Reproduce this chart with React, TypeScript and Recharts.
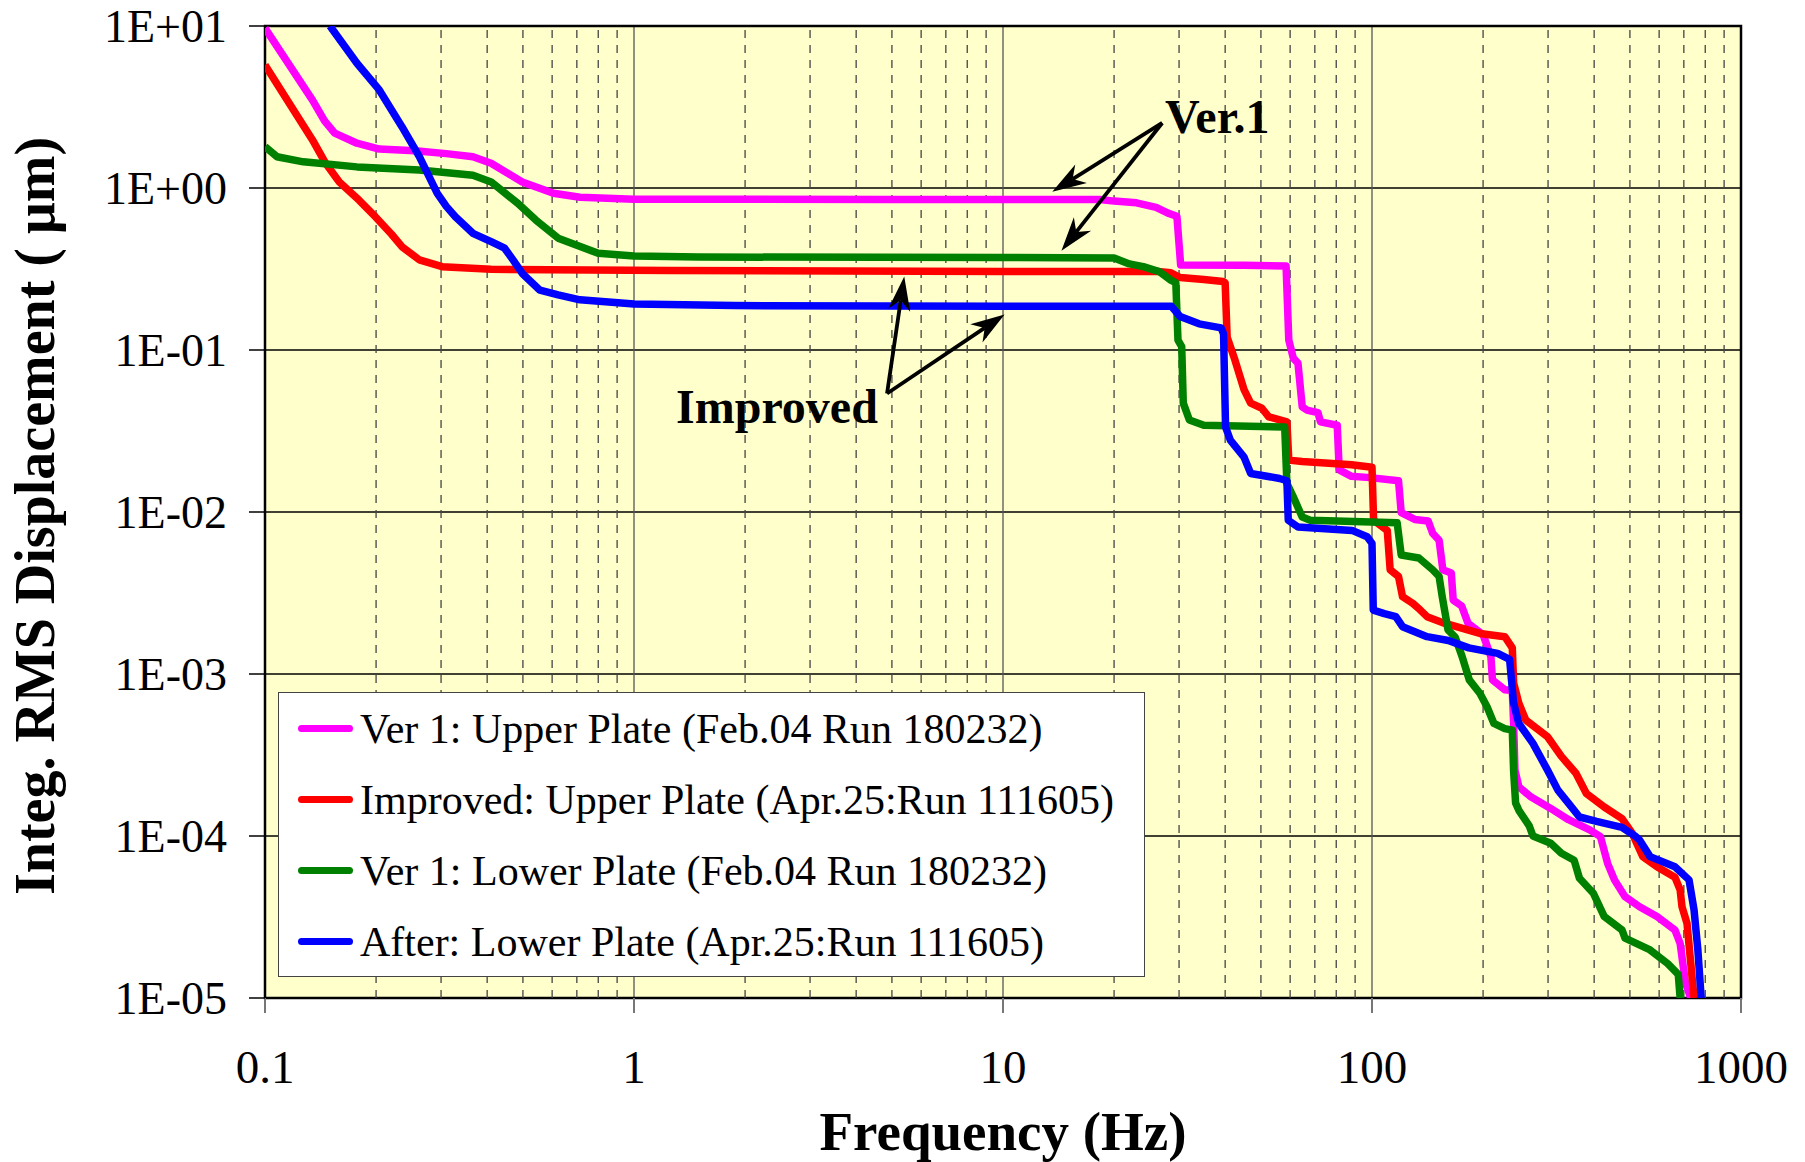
import React from 'react';
import {
  LineChart,
  Line,
  XAxis,
  YAxis,
  CartesianGrid,
  ReferenceLine,
  ReferenceArea,
  ReferenceDot,
  Legend
} from 'recharts';

// axis ticks
const xTicks = [0.1, 1, 10, 100, 1000];
const yTicks = [1e-5, 1e-4, 1e-3, 1e-2, 1e-1, 1, 10];
const minorTicks = [
  0.2, 0.3, 0.4, 0.5, 0.6, 0.7, 0.8, 0.9,
  2, 3, 4, 5, 6, 7, 8, 9,
  20, 30, 40, 50, 60, 70, 80, 90,
  200, 300, 400, 500, 600, 700, 800, 900
];

// [frequency Hz, integrated RMS displacement um]
const ver1Upper: [number, number][] = [
  [0.1, 9.7], [0.1345, 3.49], [0.145, 2.6], [0.1545, 2.18], [0.1775, 1.89], [0.204, 1.74],
  [0.255, 1.7], [0.31, 1.63], [0.366, 1.56], [0.41, 1.42], [0.498, 1.09], [0.605, 0.927],
  [0.714, 0.877], [1.0, 0.852], [5, 0.85], [18.3, 0.85], [20, 0.83], [23, 0.81], [26, 0.76],
  [28, 0.7], [29.6, 0.67], [30.0, 0.45], [30.3, 0.335], [45, 0.333], [58.5, 0.33], [59.5, 0.115],
  [61.2, 0.089], [63, 0.083], [64.7, 0.0446], [66.6, 0.0426], [71.4, 0.041], [72.5, 0.036],
  [80.5, 0.0343], [81.5, 0.0182], [88, 0.0166], [98.7, 0.0163], [118, 0.0156], [120, 0.0099],
  [130.6, 0.009], [142, 0.0088], [146, 0.0074], [152, 0.0067], [155.6, 0.0044], [164, 0.0042],
  [166, 0.00286], [175, 0.00263], [182, 0.00206], [200, 0.00175], [210, 0.00128], [212, 0.00092],
  [229, 0.0008], [240, 0.00079], [242, 0.000495], [244, 0.000255], [250, 0.000201],
  [270, 0.000174], [305, 0.000148], [341, 0.000126], [389, 0.000109], [416, 0.0000991],
  [435, 0.0000678], [454, 0.0000536], [485, 0.0000422], [531, 0.0000366], [592, 0.0000318],
  [662, 0.0000263], [684, 0.0000217], [707, 0.0000124], [731, 0.00001]
];

const improvedUpper: [number, number][] = [
  [0.1, 5.74], [0.1345, 1.98], [0.146, 1.42], [0.159, 1.09], [0.18, 0.84], [0.199, 0.665],
  [0.22, 0.52], [0.235, 0.434], [0.262, 0.36], [0.302, 0.327], [0.41, 0.315], [1.25, 0.31],
  [10, 0.305], [26.3, 0.305], [28.5, 0.3], [30.2, 0.28], [35, 0.272], [39.5, 0.265],
  [40.0, 0.26], [40.5, 0.12], [42.5, 0.087], [45, 0.057], [46.9, 0.047], [50.3, 0.0437],
  [52.5, 0.0387], [58.8, 0.036], [59.5, 0.0209], [64.7, 0.0205], [88, 0.0196], [100, 0.0189],
  [101, 0.0089], [110, 0.0077], [112, 0.0044], [118, 0.004], [121, 0.003], [129, 0.00273],
  [135, 0.00249], [141, 0.00226], [157, 0.00206], [196, 0.00178], [229, 0.0017], [240, 0.00145],
  [242, 0.00088], [250, 0.00066], [261, 0.00052], [299, 0.00041], [326, 0.00031],
  [357, 0.000244], [381, 0.000183], [426, 0.000151], [476, 0.000128], [507, 0.000104],
  [542, 0.0000746], [592, 0.0000646], [662, 0.0000557], [684, 0.0000465], [692, 0.0000366],
  [714, 0.0000289], [731, 0.0000163], [746, 0.00001]
];

const ver1Lower: [number, number][] = [
  [0.1, 1.8], [0.1077, 1.56], [0.127, 1.45], [0.1775, 1.35], [0.262, 1.29], [0.366, 1.2],
  [0.41, 1.09], [0.484, 0.805], [0.542, 0.634], [0.623, 0.49], [0.697, 0.445], [0.8, 0.395],
  [1.0, 0.38], [1.5, 0.375], [10, 0.372], [20, 0.37], [22, 0.34], [24, 0.327], [26.5, 0.305],
  [28.5, 0.27], [29.4, 0.26], [29.8, 0.115], [30.5, 0.105], [30.8, 0.047], [32, 0.037],
  [35, 0.0343], [58, 0.0335], [58.8, 0.015], [61.2, 0.0124], [64.7, 0.0093], [68, 0.0089],
  [117, 0.00857], [120, 0.00543], [134, 0.0052], [146, 0.0044], [152, 0.004], [155, 0.003],
  [160.7, 0.00187], [168, 0.00169], [175.5, 0.00128], [183.5, 0.00092], [196, 0.00076],
  [205, 0.000628], [214, 0.000495], [229, 0.00046], [240, 0.00045], [242, 0.00025],
  [245, 0.00016], [250, 0.000144], [267, 0.000115], [273, 0.0001], [305, 0.0000902],
  [326, 0.0000782], [353, 0.0000709], [365, 0.0000548], [398, 0.0000443], [426, 0.0000318],
  [476, 0.0000263], [485, 0.0000234], [567, 0.0000198], [633, 0.0000163], [676, 0.000014],
  [684, 0.00001]
];

const afterLower: [number, number][] = [
  [0.15, 10], [0.1775, 5.89], [0.204, 4.03], [0.235, 2.39], [0.262, 1.56], [0.293, 0.927],
  [0.31, 0.77], [0.328, 0.665], [0.366, 0.525], [0.41, 0.467], [0.446, 0.425], [0.47, 0.36],
  [0.498, 0.297], [0.556, 0.234], [0.623, 0.219], [0.714, 0.204], [1.0, 0.192], [1.87, 0.188],
  [10, 0.186], [28.6, 0.186], [30.2, 0.161], [34, 0.145], [39, 0.137], [39.6, 0.126],
  [40.1, 0.0335], [41.3, 0.0278], [45, 0.0218], [46.9, 0.0173], [56.2, 0.0161], [58.8, 0.0156],
  [59.3, 0.0089], [63, 0.00808], [88.3, 0.0077], [97, 0.00704], [100, 0.0064], [100.8, 0.00248],
  [108, 0.00236], [116, 0.00226], [121, 0.00196], [141, 0.0017], [161, 0.00161], [183, 0.00145],
  [219, 0.00134], [236, 0.00123], [242, 0.00066], [250, 0.000495], [273, 0.000373],
  [299, 0.000255], [319, 0.000192], [341, 0.000159], [365, 0.000131], [406, 0.000123],
  [476, 0.000113], [519, 0.0000991], [531, 0.0000944], [567, 0.0000746], [662, 0.0000646],
  [723, 0.0000536], [746, 0.000035], [764, 0.0000198], [780, 0.00001]
];

const series = [
  { name: 'Ver 1: Upper Plate (Feb.04 Run 180232)', color: '#FF00FF', points: ver1Upper },
  { name: 'Improved: Upper Plate (Apr.25:Run 111605)', color: '#FF0000', points: improvedUpper },
  { name: 'Ver 1: Lower Plate (Feb.04 Run 180232)', color: '#008000', points: ver1Lower },
  { name: 'After: Lower Plate (Apr.25:Run 111605)', color: '#0000FF', points: afterLower }
];
const legendOrder = series.map(s => s.name);

// annotation arrows: [tail, tip] in data units
const ver1Arrows: [number, number][][] = [
  [[27.0, 2.52], [13.6, 0.948]],
  [[27.0, 2.52], [14.4, 0.41]]
];
const improvedArrows: [number, number][][] = [
  [[4.85, 0.0539], [5.4, 0.284]],
  [[4.85, 0.0539], [10.1, 0.1656]]
];
const ver1LabelAt: [number, number] = [27.5, 2.19];
const improvedLabelAt: [number, number] = [1.3, 0.0354];

const SERIF = '"Liberation Serif", "Times New Roman", serif';

const fmtY = (v: number) => {
  const e = Math.round(Math.log10(v));
  return `1E${e < 0 ? '-' : '+'}${String(Math.abs(e)).padStart(2, '0')}`;
};

const ArrowShape = (p: any) => {
  const { x1, y1, x2, y2 } = p;
  const ang = Math.atan2(y2 - y1, x2 - x1);
  const c = Math.cos(ang);
  const s = Math.sin(ang);
  const len = 34;
  const half = 11;
  const notch = 24;
  const bx = x2 - len * c;
  const by = y2 - len * s;
  const nx = x2 - notch * c;
  const ny = y2 - notch * s;
  return (
    <g>
      <line x1={x1} y1={y1} x2={nx} y2={ny} stroke="#000" strokeWidth={3.8} />
      <polygon
        points={`${x2},${y2} ${bx - half * s},${by + half * c} ${nx},${ny} ${bx + half * s},${by - half * c}`}
        fill="#000"
      />
    </g>
  );
};

const noteText = (text: string) => (p: any) => (
  <text x={p.cx} y={p.cy} fontFamily={SERIF} fontWeight="bold" fontSize={48} fill="#000">
    {text}
  </text>
);

const LegendBox = ({ payload }: any) => {
  const items = (payload || [])
    .slice()
    .sort((a: any, b: any) => legendOrder.indexOf(a.value) - legendOrder.indexOf(b.value));
  return (
    <div
      style={{
        width: 867,
        height: 285,
        boxSizing: 'border-box',
        background: '#fff',
        border: '1.5px solid #444',
        fontFamily: SERIF,
        fontSize: 42,
        color: '#000'
      }}
    >
      {items.map((item: any) => (
        <div key={item.value} style={{ height: 71, display: 'flex', alignItems: 'center' }}>
          <span
            style={{
              display: 'inline-block',
              width: 55,
              height: 7,
              borderRadius: 4,
              background: item.color,
              marginLeft: 19,
              marginRight: 7
            }}
          />
          <span style={{ whiteSpace: 'nowrap' }}>{item.value}</span>
        </div>
      ))}
    </div>
  );
};

const App: React.FC = () => {
  return (
    <div style={{ position: 'absolute', left: 0, top: 0, width: 1805, height: 1162, background: '#fff' }}>
      <LineChart width={1805} height={1162} margin={{ top: 26, right: 64, bottom: 0, left: 0 }}>
        <CartesianGrid vertical={false} stroke="#000" strokeWidth={1.3} fill="#FFFFCC" fillOpacity={1} />
        <CartesianGrid horizontal={false} stroke="#555" strokeWidth={1.3} />
        {minorTicks.map(v => (
          <ReferenceLine key={v} x={v} stroke="#444" strokeWidth={1.3} strokeDasharray="8 7" />
        ))}
        <XAxis
          dataKey="f"
          type="number"
          scale="log"
          domain={[0.1, 1000]}
          ticks={xTicks}
          interval={0}
          allowDataOverflow
          height={164}
          axisLine={false}
          tickSize={15}
          tickMargin={37}
          tickLine={{ stroke: '#777', strokeWidth: 2 }}
          tick={{ fontSize: 47, fill: '#000', fontFamily: SERIF }}
          tickFormatter={(v: number) => String(v)}
          label={{
            value: 'Frequency (Hz)',
            position: 'insideBottom',
            offset: 12,
            fontSize: 55,
            fontWeight: 'bold',
            fontFamily: SERIF,
            fill: '#000'
          }}
        />
        <YAxis
          type="number"
          scale="log"
          domain={[1e-5, 10]}
          ticks={yTicks}
          interval={0}
          allowDataOverflow
          width={265}
          axisLine={false}
          tickSize={16}
          tickMargin={22}
          tickLine={{ stroke: '#000', strokeWidth: 1.5 }}
          tick={{ fontSize: 46, fill: '#000', fontFamily: SERIF }}
          tickFormatter={fmtY}
          label={(p: any) => {
            const vb = p.viewBox || { y: 26, height: 972 };
            const cy = vb.y + vb.height / 2 + 4;
            return (
              <text
                transform={`translate(54,${cy}) rotate(-90)`}
                textAnchor="middle"
                fontFamily={SERIF}
                fontWeight="bold"
                fontSize={56}
                fill="#000"
              >
                Integ. RMS Displacement ( μm)
              </text>
            );
          }}
        />
        {series.map(s => (
          <Line
            key={s.name}
            name={s.name}
            data={s.points.map(([f, v]) => ({ f, v }))}
            dataKey="v"
            type="linear"
            stroke={s.color}
            strokeWidth={7.5}
            strokeLinejoin="round"
            dot={false}
            activeDot={false}
            isAnimationActive={false}
          />
        ))}
        <ReferenceArea x1={0.1} x2={1000} y1={1e-5} y2={10} fill="none" stroke="#000" strokeWidth={2.5} />
        {[...ver1Arrows, ...improvedArrows].map(([a, b], i) => (
          <ReferenceLine
            key={`arrow-${i}`}
            segment={[{ x: a[0], y: a[1] }, { x: b[0], y: b[1] }]}
            shape={ArrowShape}
          />
        ))}
        <ReferenceDot x={ver1LabelAt[0]} y={ver1LabelAt[1]} r={0} shape={noteText('Ver.1')} />
        <ReferenceDot x={improvedLabelAt[0]} y={improvedLabelAt[1]} r={0} shape={noteText('Improved')} />
        <Legend
          layout="vertical"
          align="center"
          verticalAlign="middle"
          content={<LegendBox />}
          wrapperStyle={{ left: 278, top: 692, width: 867, height: 285 }}
        />
      </LineChart>
    </div>
  );
};

export default App;
